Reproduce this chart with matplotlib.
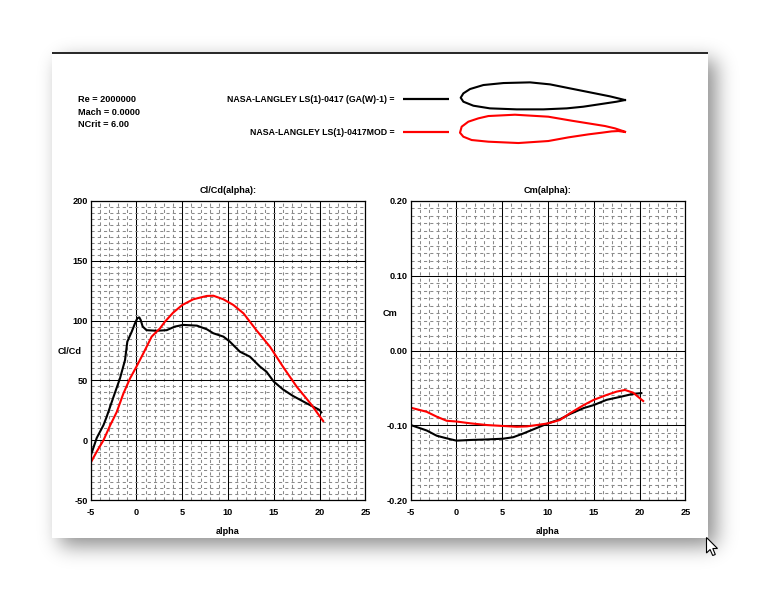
import math
import numpy as np
import matplotlib
matplotlib.use("Agg")
import matplotlib.pyplot as plt
from matplotlib.ticker import MultipleLocator
from matplotlib.patches import Rectangle, Polygon

plt.rcParams['font.family'] = ['Liberation Sans', 'DejaVu Sans']
plt.rcParams['font.weight'] = 'bold'
plt.rcParams['axes.unicode_minus'] = False

# ---------------- data ----------------
re_text = "Re = 2000000"
mach_text = "Mach = 0.0000"
ncrit_text = "NCrit = 6.00"
foil_names = ["NASA-LANGLEY LS(1)-0417 (GA(W)-1) =", "NASA-LANGLEY LS(1)-0417MOD ="]
foil_colors = ["#000000", "#ff0000"]

# airfoil outlines (x/c, y/c), upper then lower
af1_up_x = [0, 0.0162, 0.0568, 0.138, 0.260, 0.422, 0.544, 0.665, 0.787, 0.909, 1.0]
af1_up_y = [0, 0.0264, 0.0527, 0.0771, 0.0892, 0.0933, 0.0811, 0.0568, 0.0325, 0.0081, -0.0142]
af1_lo_x = [0, 0.0162, 0.0771, 0.178, 0.341, 0.503, 0.645, 0.746, 0.868, 0.949, 1.0]
af1_lo_y = [0, -0.0243, -0.0487, -0.0649, -0.071, -0.071, -0.0649, -0.0548, -0.0365, -0.0243, -0.0142]

af2_up_x = [0, 0.0101, 0.0505, 0.111, 0.172, 0.333, 0.535, 0.677, 0.778, 0.879, 0.939, 1.0]
af2_up_y = [0, 0.0364, 0.0667, 0.0869, 0.101, 0.109, 0.097, 0.0727, 0.0566, 0.0404, 0.0263, 0.006]
af2_lo_x = [0, 0.0202, 0.0707, 0.172, 0.354, 0.535, 0.657, 0.778, 0.859, 0.919, 0.960, 1.0]
af2_lo_y = [0, -0.0242, -0.0444, -0.0545, -0.0626, -0.0505, -0.0283, -0.0101, 0.0, 0.008, 0.010, 0.004]

# Cl/Cd vs alpha
clcd1_alpha = [-5, -4.34, -3.6, -3.25, -2.5, -1.8, -1.25, -1.0, -0.52, -0.16, 0.1, 0.31, 0.46, 0.68,
               1.1, 2.2, 3.3, 4.2, 5.1, 6.6, 7.7, 8.4, 9.5, 10.2, 11.3, 12.4, 13.5, 14.2, 15, 16,
               17.1, 18.6, 20, 20.2]
clcd1 = [-13, 1.9, 12.7, 19.7, 36.4, 51.7, 67, 82.4, 90.7, 97.7, 102, 102.7, 100.5, 95,
         92, 91.5, 92, 95, 96.4, 95.8, 92.7, 89.4, 86.6, 82.4, 74, 69.8, 61.5, 57.3, 49, 42.5,
         37, 30.8, 25.3, 23.3]
clcd2_alpha = [-5, -4.3, -3.6, -2.9, -2.16, -1.43, -0.7, 0, 0.75, 1.66, 2.57, 3.1, 4.0, 5, 6.2,
               7.67, 8.4, 9.5, 10.6, 11.7, 13.1, 14.6, 16.0, 17.5, 19, 20.4]
clcd2 = [-18.8, -9, 0, 12, 23.5, 39, 51.7, 61.5, 72.6, 86.6, 93.5, 99, 106.6, 113, 117.8,
         120.6, 120.8, 117.8, 113, 106, 92, 78, 61.5, 44.8, 30.8, 16]

# Cm vs alpha
cm1_alpha = [-5, -3.25, -2.16, -1.07, 0, 1.5, 3.3, 5.1, 6.2, 7.3, 8.4, 10, 11.3, 12.4, 13.9, 15,
             16.4, 17.9, 19.3, 20.2]
cm1 = [-0.0997, -0.107, -0.114, -0.1175, -0.1206, -0.1197, -0.119, -0.118, -0.116, -0.111,
       -0.1055, -0.0975, -0.092, -0.085, -0.077, -0.073, -0.066, -0.062, -0.058, -0.057]
cm2_alpha = [-5, -3.25, -2.16, -1.07, 0, 1.5, 3.3, 5.1, 6.6, 7.7, 8.8, 10, 11.3, 12.4, 13.9, 15,
             16.4, 17.5, 18.4, 19.3, 20.4]
cm2 = [-0.0765, -0.082, -0.0885, -0.094, -0.095, -0.0974, -0.0997, -0.101, -0.102, -0.1015,
       -0.0997, -0.0975, -0.093, -0.084, -0.073, -0.066, -0.0595, -0.055, -0.0528, -0.0564, -0.0676]

x_ticks = [-5, 0, 5, 10, 15, 20, 25]
clcd_ticks = [-50, 0, 50, 100, 150, 200]
cm_ticks = [-0.20, -0.10, 0.00, 0.10, 0.20]

# ---------------- figure ----------------
W, H = 760, 591
fig = plt.figure(figsize=(W / 100, H / 100), dpi=100)
FS = 6.6
FS_NAME = 6.3

def px_axes(left, top, w, h, **kw):
    return fig.add_axes([left / W, 1 - (top + h) / H, w / W, h / H], **kw)

# background, shadow, page
bg = fig.add_axes([0, 0, 1, 1], zorder=0)
bg.set_xlim(0, W)
bg.set_ylim(H, 0)
bg.axis('off')
pl, pt, pr, pb = 52, 52, 708, 538
off, sig = 8, 10.0
erf = np.vectorize(math.erf)
xs = np.arange(W) + 0.5
ys = np.arange(H) + 0.5
fx = 0.5 * (erf((xs - (pl + off)) / (sig * 1.414)) - erf((xs - (pr + off)) / (sig * 1.414)))
fy = 0.5 * (erf((ys - (pt + off)) / (sig * 1.414)) - erf((ys - (pb + off)) / (sig * 1.414)))
shadow = 0.45 * np.outer(fy, fx)
rgba = np.zeros((H, W, 4))
rgba[..., 3] = shadow
bg.imshow(rgba, extent=(0, W, H, 0), interpolation='nearest', zorder=0)
bg.add_patch(Rectangle((pl, pt), pr - pl, pb - pt, facecolor='white', edgecolor='none', zorder=1))
bg.plot([pl, pr], [pt + 0.5, pt + 0.5], color='black', lw=1.2, zorder=2, solid_capstyle='butt')

# header text
bg.text(77.5, 102, re_text, fontsize=FS, fontweight='bold', ha='left', va='baseline', zorder=3)
bg.text(77.5, 115.3, mach_text, fontsize=FS, fontweight='bold', ha='left', va='baseline', zorder=3)
bg.text(77.5, 127, ncrit_text, fontsize=FS, fontweight='bold', ha='left', va='baseline', zorder=3)
bg.text(394.5, 102, foil_names[0], fontsize=FS_NAME, fontweight='bold', ha='right', va='baseline', zorder=3)
bg.text(394.5, 135.3, foil_names[1], fontsize=FS_NAME, fontweight='bold', ha='right', va='baseline', zorder=3)
bg.plot([403.3, 449], [98.5, 98.5], color=foil_colors[0], lw=1.6, zorder=3, solid_capstyle='butt')
bg.plot([403.3, 449], [131.5, 131.5], color=foil_colors[1], lw=1.6, zorder=3, solid_capstyle='butt')

# mouse cursor
cur = np.array([(0, 0), (0, 15.5), (3.6, 12), (6.2, 18), (8.8, 17), (6.3, 11), (11, 11)])
bg.add_patch(Polygon(cur + np.array([706.5, 537.5]), closed=True, facecolor='white',
                     edgecolor='black', lw=0.8, zorder=5))

# airfoil drawings
def draw_foil(ax, ux, uy, lx, ly, color):
    x = list(reversed(ux)) + lx[1:]
    y = list(reversed(uy)) + ly[1:]
    ax.plot(x, y, color=color, lw=1.5, solid_joinstyle='round')
    ax.axis('off')

af1 = px_axes(455, 78, 175, 36, zorder=2)
af1.set_xlim((455 - 460.7) / 164.3, (630 - 460.7) / 164.3)
af1.set_ylim(-(114 - 97.7) / 164.3, (97.7 - 78) / 164.3)
draw_foil(af1, af1_up_x, af1_up_y, af1_lo_x, af1_lo_y, foil_colors[0])

af2 = px_axes(455, 110, 175, 38, zorder=2)
af2.set_xlim((455 - 460) / 165, (630 - 460) / 165)
af2.set_ylim(-(148 - 132.7) / 165, (132.7 - 110) / 165)
draw_foil(af2, af2_up_x, af2_up_y, af2_lo_x, af2_lo_y, foil_colors[1])

# plots
def setup(ax, yticks, ymin, ymax, yminor, fmt, title, ylabel_pos, ylabel):
    ax.set_xlim(-5, 25)
    ax.set_ylim(ymin, ymax)
    ax.set_xticks(x_ticks)
    ax.set_yticks(yticks)
    ax.set_yticklabels([fmt.format(v) for v in yticks])
    ax.xaxis.set_minor_locator(MultipleLocator(1))
    ax.yaxis.set_minor_locator(MultipleLocator(yminor))
    ax.grid(which='major', color='black', lw=0.75, ls='-')
    ax.grid(which='minor', color='#8a8a8a', lw=0.75, ls=(0, (3, 3)))
    ax.set_axisbelow(True)
    ax.tick_params(which='both', length=0)
    ax.tick_params(axis='x', pad=6.0, labelsize=FS)
    ax.tick_params(axis='y', pad=2.3, labelsize=FS)
    for lab in ax.get_xticklabels() + ax.get_yticklabels():
        lab.set_fontweight('bold')
    for s in ax.spines.values():
        s.set_linewidth(0.9)
        s.set_color('black')
    ax.set_title(title, fontsize=FS, fontweight='bold', pad=6.0)
    ax.text(0.5, -31.5 / 299, 'alpha', transform=ax.transAxes, ha='center', va='center',
            fontsize=FS, fontweight='bold')
    bg.text(ylabel_pos[0], ylabel_pos[1], ylabel, ha='center', va='center', fontsize=FS,
            fontweight='bold', zorder=3)

ax1 = px_axes(90.7, 201, 274.6, 299, zorder=2)
setup(ax1, clcd_ticks, -50, 200, 5, "{:.0f}", "Cl/Cd(alpha):", (70, 351.5), "Cl/Cd")
ax1.plot(clcd1_alpha, clcd1, color=foil_colors[0], lw=1.5)
ax1.plot(clcd2_alpha, clcd2, color=foil_colors[1], lw=1.5)

ax2 = px_axes(410.7, 201, 274.6, 299, zorder=2)
setup(ax2, cm_ticks, -0.2, 0.2, 0.01, "{:.2f}", "Cm(alpha):", (390, 314), "Cm")
ax2.plot(cm1_alpha, cm1, color=foil_colors[0], lw=1.5)
ax2.plot(cm2_alpha, cm2, color=foil_colors[1], lw=1.5)

fig.savefig('out.png', dpi=100)
